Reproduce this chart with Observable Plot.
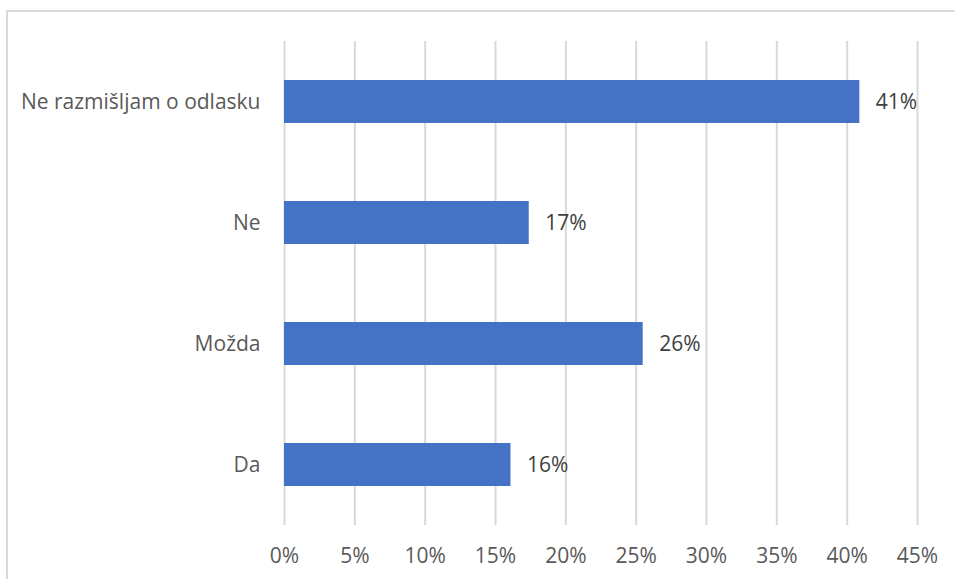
<!DOCTYPE html>
<html>
<head>
<meta charset="utf-8">
<script src="https://cdn.jsdelivr.net/npm/d3@7"></script>
<script src="https://cdn.jsdelivr.net/npm/@observablehq/plot@0.6"></script>
<style>
  html, body { margin: 0; padding: 0; background: #fff; }
  #wrap { position: relative; width: 955px; height: 579px; overflow: hidden; }
  #border { position: absolute; left: 6px; top: 10px; right: -10px; bottom: -10px;
            border-left: 2px solid #d9d9d9; border-top: 2px solid #d9d9d9; }
  #chart { position: absolute; left: 0; top: 0; }
</style>
</head>
<body>
<div id="wrap"><div id="border"></div><div id="chart"></div></div>
<script>
const categories = ["Ne razmišljam o odlasku", "Ne", "Možda", "Da"];
const values = [40.9, 17.4, 25.5, 16.1];
const valueLabels = ["41%", "17%", "26%", "16%"];
const xTicks = [0, 5, 10, 15, 20, 25, 30, 35, 40, 45];

const data = categories.map((c, i) => ({category: c, value: values[i], label: valueLabels[i]}));

const chart = Plot.plot({
  width: 955,
  height: 579,
  marginLeft: 284,
  marginRight: 38,
  marginTop: 41,
  marginBottom: 54,
  style: {fontFamily: "'Open Sans', sans-serif", fontSize: "21px", color: "#595959", background: "transparent"},
  x: {domain: [0, 45], ticks: xTicks, tickFormat: d => d + "%", tickSize: 0, tickPadding: 23, label: null},
  y: {domain: categories, paddingInner: 0.645, paddingOuter: 0.3225, tickSize: 0, tickPadding: 24, label: null},
  marks: [
    Plot.ruleX(xTicks, {stroke: "#d9d9d9", strokeWidth: 2}),
    Plot.barX(data, {x: "value", y: "category", fill: "#4472C4"}),
    Plot.text(data, {x: "value", y: "category", text: "label", textAnchor: "start", dx: 16, fill: "#404040", fontSize: 21})
  ]
});
document.getElementById("chart").appendChild(chart);
</script>
</body>
</html>
